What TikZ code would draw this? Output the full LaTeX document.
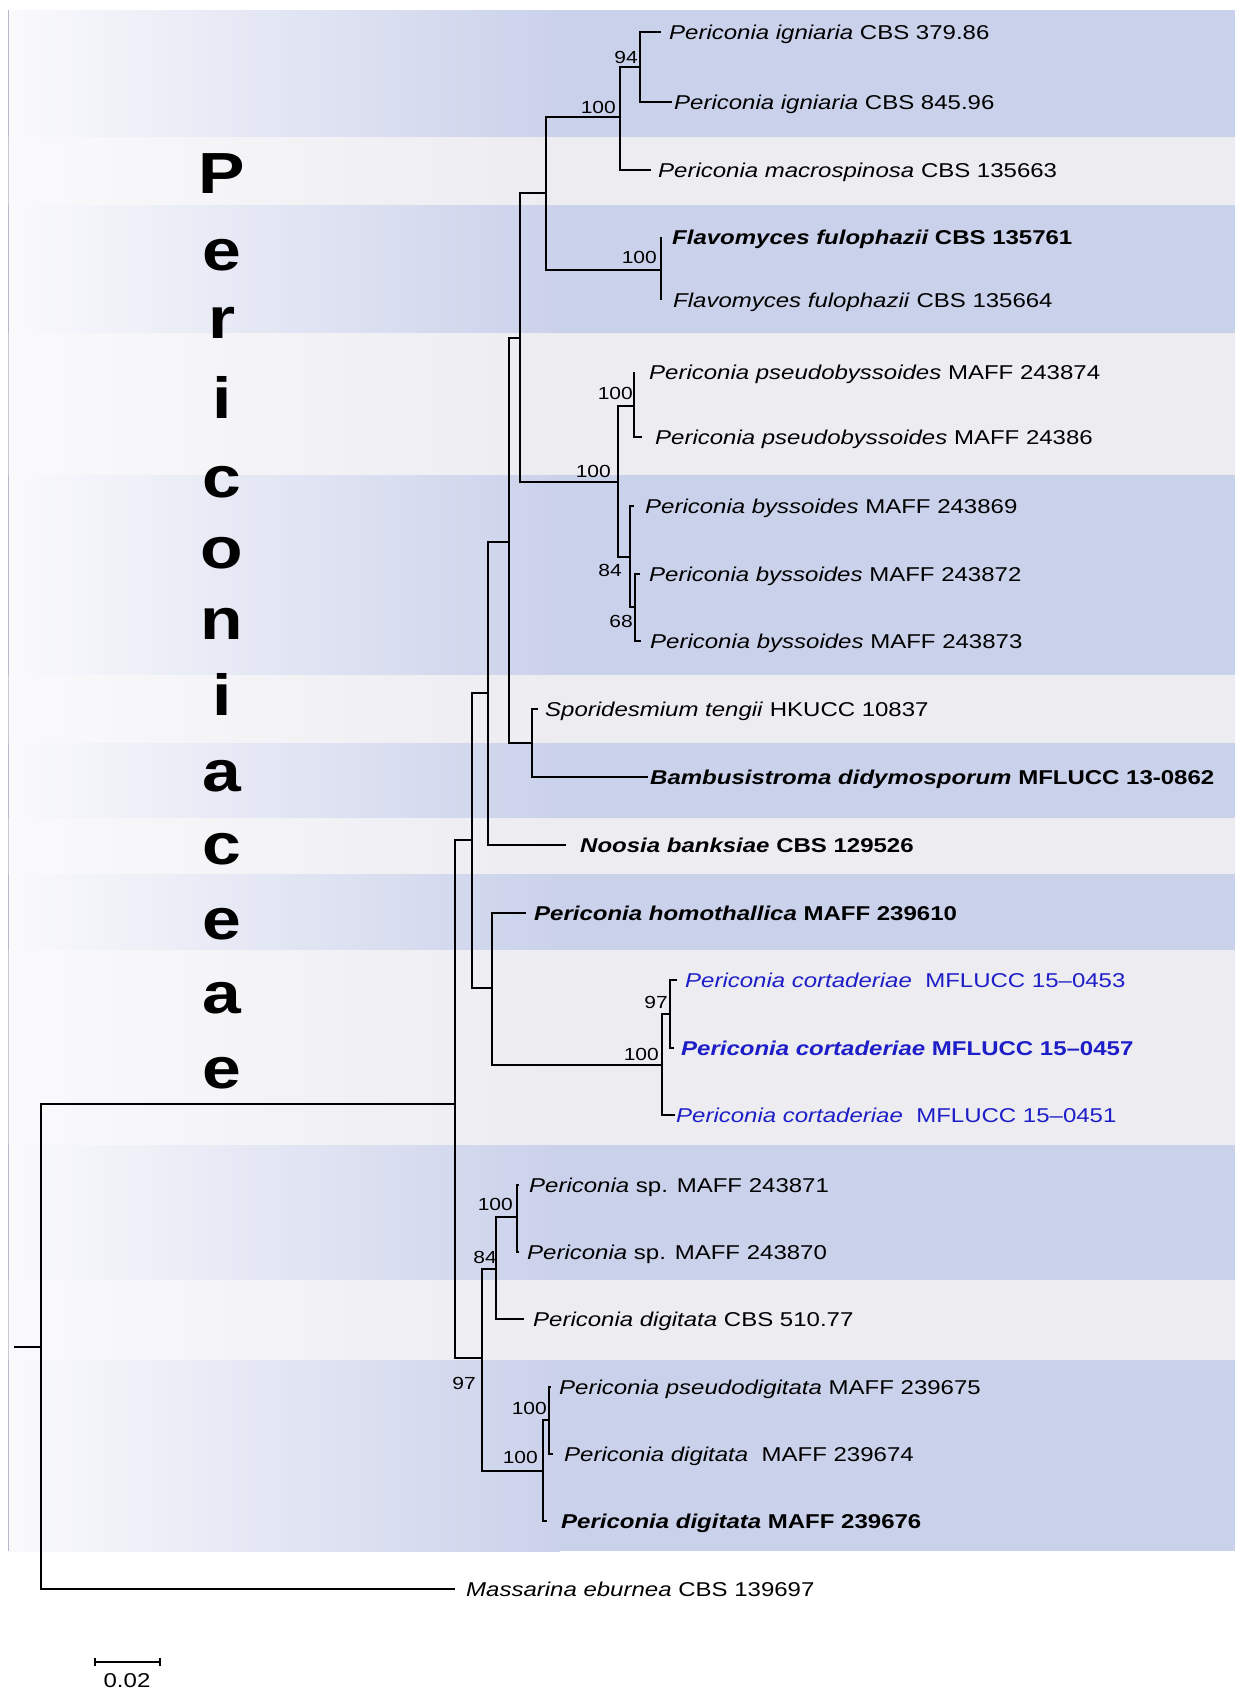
\documentclass[tikz,border=0pt]{standalone}
\usepackage{fontspec}
\setmainfont{Liberation Sans}[FakeStretch=1.2]
\usetikzlibrary{arrows.meta}

\definecolor{bandblue}{RGB}{202,209,234}
\definecolor{bandgrey}{RGB}{236,236,241}
\definecolor{bandleft}{RGB}{250,250,252}
\definecolor{cortblue}{RGB}{30,30,200}

\begin{document}
\begin{tikzpicture}[x=1pt, y=-1pt,
    branch/.style={black, line width=2.1pt},
    taxon/.style={anchor=west, inner sep=0pt, text height=18pt, text depth=4pt,
        font=\fontsize{20}{24}\selectfont},
    support/.style={anchor=east, inner sep=0pt, font=\fontsize{17.5}{20}\selectfont},
    famletter/.style={inner sep=0pt, font=\fontsize{58}{60}\selectfont\bfseries}]

    \useasboundingbox (0,0) rectangle (1235,1692);
    \fill[white] (0,0) rectangle (1235,1692);

    % background bands
    \foreach \ya/\yb/\cl in {10/137/bandblue, 137/205/bandgrey, 205/333/bandblue,
        333/475/bandgrey, 475/675/bandblue, 675/743/bandgrey, 743/818/bandblue,
        818/874/bandgrey, 874/950/bandblue, 950/1145/bandgrey, 1145/1280/bandblue,
        1280/1360/bandgrey, 1360/1551/bandblue}
    {
        \shade[left color=bandleft, right color=\cl] (8,\ya) rectangle (560,\yb);
        \fill[\cl] (560,\ya) rectangle (1235,\yb);
        \draw[\cl!70!gray, line width=1pt] (8,\ya) -- (8,\yb);
    }

    % family name, one letter per row
    \foreach \ch/\yy [count=\k] in {P/174, e/255, r/323, i/397, c/482, o/553,
        n/624, i/694, a/776, c/849, e/924, a/998, e/1073}
    {
        \node[famletter] (fam\k) at (222,\yy) {\ch};
    }

    % internal nodes
    \coordinate (stub) at (14,1347);
    \coordinate (root) at (41,1347);
    \coordinate (nH) at (455,1104);
    \coordinate (nG) at (472,840);
    \coordinate (nL) at (482,1358);
    \coordinate (nF) at (488,693);
    \coordinate (nI) at (492,988);
    \coordinate (nA) at (509,542);
    \coordinate (nB) at (520,338);
    \coordinate (nC) at (546,193);
    \coordinate (nIgn) at (620,117);
    \coordinate (n94) at (640,67);
    \coordinate (nFl) at (661,270);
    \coordinate (nD) at (618,482);
    \coordinate (nPB) at (634,406);
    \coordinate (nBy) at (630,557);
    \coordinate (n68) at (635,607);
    \coordinate (nE) at (532,743);
    \coordinate (nJ) at (662,1065);
    \coordinate (nK) at (670,1014);
    \coordinate (nM) at (496,1269);
    \coordinate (nSp) at (517,1217);
    \coordinate (nN) at (543,1471);
    \coordinate (nO) at (549,1420);

    % taxa
    \node[taxon] (igA) at (669,32) {\textit{Periconia igniaria} CBS 379.86};
    \node[taxon] (igB) at (674,102) {\textit{Periconia igniaria} CBS 845.96};
    \node[taxon] (macro) at (658,170) {\textit{Periconia macrospinosa} CBS 135663};
    \node[taxon] (flA) at (672,237) {\bfseries\itshape Flavomyces fulophazii \upshape CBS 135761};
    \node[taxon] (flB) at (673,300) {\textit{Flavomyces fulophazii} CBS 135664};
    \node[taxon] (psA) at (649,372) {\textit{Periconia pseudobyssoides} MAFF 243874};
    \node[taxon] (psB) at (655,437) {\textit{Periconia pseudobyssoides} MAFF 24386};
    \node[taxon] (byA) at (645,506) {\textit{Periconia byssoides} MAFF 243869};
    \node[taxon] (byB) at (649,574) {\textit{Periconia byssoides} MAFF 243872};
    \node[taxon] (byC) at (650,641) {\textit{Periconia byssoides} MAFF 243873};
    \node[taxon] (spo) at (545,709) {\textit{Sporidesmium tengii} HKUCC 10837};
    \node[taxon] (bam) at (650,777) {\bfseries\itshape Bambusistroma didymosporum \upshape MFLUCC 13-0862};
    \node[taxon] (noo) at (580,845) {\bfseries\itshape Noosia banksiae \upshape CBS 129526};
    \node[taxon] (hom) at (534,913) {\bfseries\itshape Periconia homothallica \upshape MAFF 239610};
    \node[taxon, text=cortblue] (coA) at (685,980) {\textit{Periconia cortaderiae}\ \ MFLUCC 15–0453};
    \node[taxon, text=cortblue] (coB) at (681,1048) {\bfseries\itshape Periconia cortaderiae \upshape MFLUCC 15–0457};
    \node[taxon, text=cortblue] (coC) at (676,1115) {\textit{Periconia cortaderiae}\ \ MFLUCC 15–0451};
    \node[taxon] (sA) at (529,1185) {\textit{Periconia} sp. MAFF 243871};
    \node[taxon] (sB) at (527,1252) {\textit{Periconia} sp. MAFF 243870};
    \node[taxon] (dgA) at (533,1319) {\textit{Periconia digitata} CBS 510.77};
    \node[taxon] (pdg) at (559,1387) {\textit{Periconia pseudodigitata} MAFF 239675};
    \node[taxon] (dgB) at (564,1454) {\textit{Periconia digitata}\ \ MAFF 239674};
    \node[taxon] (dgC) at (561,1521) {\bfseries\itshape Periconia digitata \upshape MAFF 239676};
    \node[taxon] (mass) at (466,1589) {\textit{Massarina eburnea} CBS 139697};

    % branches between internal nodes
    \draw[branch] (stub) -- (root);
    \draw[branch] (root) |- (nH);
    \draw[branch] (nH) |- (nG);
    \draw[branch] (nH) |- (nL);
    \draw[branch] (nG) |- (nF);
    \draw[branch] (nG) |- (nI);
    \draw[branch] (nF) |- (nA);
    \draw[branch] (nA) |- (nB);
    \draw[branch] (nA) |- (nE);
    \draw[branch] (nB) |- (nC);
    \draw[branch] (nB) |- (nD);
    \draw[branch] (nC) |- (nIgn);
    \draw[branch] (nC) |- (nFl);
    \draw[branch] (nIgn) |- (n94);
    \draw[branch] (nD) |- (nPB);
    \draw[branch] (nD) |- (nBy);
    \draw[branch] (nBy) |- (n68);
    \draw[branch] (nI) |- (nJ);
    \draw[branch] (nJ) |- (nK);
    \draw[branch] (nL) |- (nM);
    \draw[branch] (nL) |- (nN);
    \draw[branch] (nM) |- (nSp);
    \draw[branch] (nN) |- (nO);

    % terminal branches
    \draw[branch, shorten >=8pt] (n94) |- (igA.west);
    \draw[branch, shorten >=2pt] (n94) |- (igB.west);
    \draw[branch, shorten >=7pt] (nIgn) |- (macro.west);
    \draw[branch, shorten >=11pt] (nFl) |- (flA.west);
    \draw[branch, shorten >=12pt] (nFl) |- (flB.west);
    \draw[branch, shorten >=15pt] (nPB) |- (psA.west);
    \draw[branch, shorten >=13pt] (nPB) |- (psB.west);
    \draw[branch, shorten >=11pt] (nBy) |- (byA.west);
    \draw[branch, shorten >=9pt] (n68) |- (byB.west);
    \draw[branch, shorten >=9pt] (n68) |- (byC.west);
    \draw[branch, shorten >=7pt] (nE) |- (spo.west);
    \draw[branch, shorten >=2pt] (nE) |- (bam.west);
    \draw[branch, shorten >=14pt] (nF) |- (noo.west);
    \draw[branch, shorten >=8pt] (nI) |- (hom.west);
    \draw[branch, shorten >=8pt] (nK) |- (coA.west);
    \draw[branch, shorten >=7pt] (nK) |- (coB.west);
    \draw[branch, shorten >=1pt] (nJ) |- (coC.west);
    \draw[branch, shorten >=10pt] (nSp) |- (sA.west);
    \draw[branch, shorten >=8pt] (nSp) |- (sB.west);
    \draw[branch, shorten >=9pt] (nM) |- (dgA.west);
    \draw[branch, shorten >=8pt] (nO) |- (pdg.west);
    \draw[branch, shorten >=11pt] (nO) |- (dgB.west);
    \draw[branch, shorten >=14pt] (nN) |- (dgC.west);
    \draw[branch, shorten >=11pt] (root) |- (mass.west);

    % bootstrap values
    \node[support] (s94) at (638,57) {94};
    \node[support] (sIgn) at (616,107) {100};
    \node[support] (sFl) at (657,257) {100};
    \node[support] (sPB) at (633,393) {100};
    \node[support] (sD) at (611,471) {100};
    \node[support] (sBy) at (622,570) {84};
    \node[support] (s68) at (633,621) {68};
    \node[support] (sJ) at (659,1054) {100};
    \node[support] (sK) at (668,1002) {97};
    \node[support] (sSp) at (513,1204) {100};
    \node[support] (sM) at (497,1257) {84};
    \node[support] (sL) at (476,1383) {97};
    \node[support] (sO) at (547,1408) {100};
    \node[support] (sN) at (538,1457) {100};

    % scale bar
    \coordinate (sbL) at (94,1662);
    \coordinate (sbR) at (161,1662);
    \draw[line width=2.1pt, {Bar[width=8pt]}-{Bar[width=8pt]}] (sbL) -- (sbR);
    \node[inner sep=0pt, font=\fontsize{20}{24}\selectfont] (sbtext) at (127,1681) {0.02};

\end{tikzpicture}
\end{document}
